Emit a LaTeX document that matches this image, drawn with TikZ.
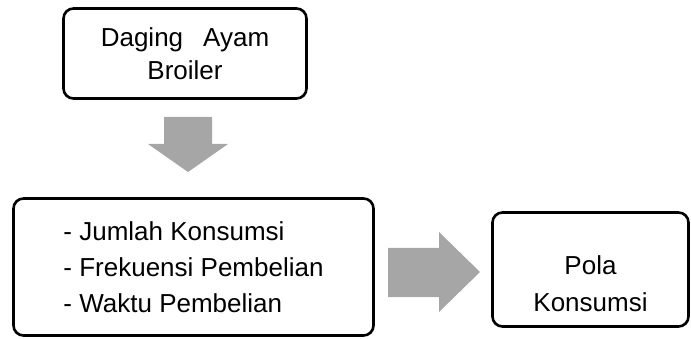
\documentclass[tikz,border=0pt]{standalone}
\usepackage{fontspec}
\setmainfont{Liberation Sans}
\definecolor{arrowgray}{HTML}{A6A6A6}
\tikzset{
  box/.style={draw=black, line width=2.6pt, rounded corners=10pt, fill=white,
              align=center, font=\fontsize{26}{33}\selectfont},
  blockarrow/.style={fill=arrowgray}
}
\begin{document}
\begin{tikzpicture}[x=1pt,y=-1pt]
            \useasboundingbox (0,0) rectangle (691,339);
            % Place the boxes
            \node[box, minimum width=243pt, minimum height=90pt] (daging) at (185,53.5)
                 {Daging\hspace{20pt}Ayam\\Broiler};
            \node[box, minimum width=360pt, minimum height=137pt, align=left,
                  font=\fontsize{26}{36}\selectfont] (ciri) at (193.5,267)
                 {- Jumlah Konsumsi\\- Frekuensi Pembelian\\- Waktu Pembelian};
            \node[box, minimum width=196pt, minimum height=114pt] (pola) at (590.5,269.5) {};
            \node[align=center, font=\fontsize{26}{37}\selectfont] (polatext)
                 at ([yshift=-14pt]pola.center) {Pola\\Konsumsi};

            % The block arrows
            \fill[blockarrow] (164,117) -- (212,117) -- (212,144) -- (228,144)
                 -- (188,172) -- (148,144) -- (164,144) -- cycle;
            \fill[blockarrow] (388,248) -- (439,248) -- (439,232) -- (480,272)
                 -- (439,312) -- (439,297) -- (388,297) -- cycle;
        \end{tikzpicture}
\end{document}
